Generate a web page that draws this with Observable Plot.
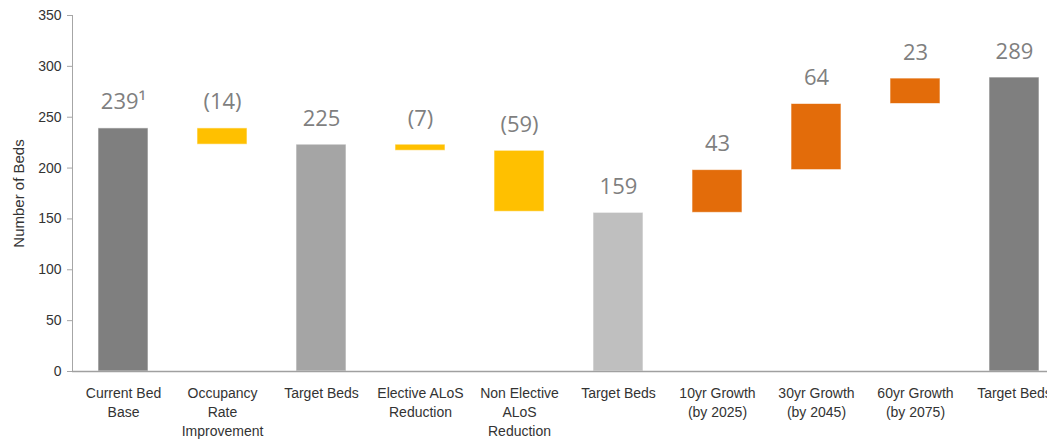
<!DOCTYPE html>
<html>
<head>
<meta charset="utf-8">
<script src="https://cdn.jsdelivr.net/npm/d3@7"></script>
<script src="https://cdn.jsdelivr.net/npm/@observablehq/plot@0.6"></script>
<style>
  html, body { margin: 0; padding: 0; background: #fff; overflow: hidden; }
  #chart { width: 1047px; height: 440px; overflow: hidden; }
</style>
</head>
<body>
<div id="chart"></div>
<script>
// ---- data ----
const categories = [
  "Current Bed\nBase",
  "Occupancy\nRate\nImprovement",
  "Target Beds",
  "Elective ALoS\nReduction",
  "Non Elective\nALoS\nReduction",
  "Target Beds",
  "10yr Growth\n(by 2025)",
  "30yr Growth\n(by 2045)",
  "60yr Growth\n(by 2075)",
  "Target Beds"
];
const barStart = [0, 239, 0, 223, 217, 0, 156, 198, 263, 0];
const barEnd   = [239, 223, 223, 217, 157, 156, 198, 263, 288, 289];
const valueLabels = ["239\u00b9", "(14)", "225", "(7)", "(59)", "159", "43", "64", "23", "289"];
const barKind = ["total", "decrease", "subtotal", "decrease", "decrease", "subtotalLight", "increase", "increase", "increase", "total"];
const yTicks = [0, 50, 100, 150, 200, 250, 300, 350];

// ---- styles ----
const kindColor = {
  total: "#7f7f7f",
  subtotal: "#a5a5a5",
  subtotalLight: "#bfbfbf",
  decrease: "#ffc000",
  increase: "#e36c0a"
};

const rows = categories.map((c, i) => ({
  key: i,
  start: barStart[i],
  end: barEnd[i],
  top: Math.max(barStart[i], barEnd[i]),
  label: valueLabels[i],
  color: kindColor[barKind[i]]
}));

const chart = Plot.plot({
  width: 1047,
  height: 440,
  marginLeft: 72,
  marginRight: 0,
  marginTop: 15,
  marginBottom: 69,
  style: { background: "#fff", fontFamily: "'Liberation Sans', Arial, sans-serif" },
  x: { type: "band", domain: rows.map(d => d.key), range: [49, 1088], padding: 0.495, round: false },
  y: { domain: [0, 350] },
  color: { type: "identity" },
  marks: [
    Plot.barY(rows, { x: "key", y1: "start", y2: "end", fill: "color", stroke: "#ffffff", strokeOpacity: 0.6, strokeWidth: 1 }),
    Plot.text(rows, {
      x: "key", y: "top", text: "label", dy: -26, lineAnchor: "middle",
      fontFamily: "'Open Sans', sans-serif", fontSize: 22, fill: "#7f7f7f"
    }),
    Plot.frame({ anchor: "left", stroke: "#a6a6a6" }),
    Plot.ruleY([0], { stroke: "#a0a0a0", strokeWidth: 1.5 }),
    Plot.axisY({
      ticks: yTicks, tickSize: 5, tickPadding: 6, fontSize: 14, fill: "#333",
      stroke: "#a6a6a6", label: null
    }),
    Plot.axisY({
      ticks: [], tickSize: 0, fontSize: 15, fill: "#333",
      label: "Number of Beds", labelAnchor: "center", labelArrow: "none", labelOffset: 59
    }),
    Plot.axisX({
      tickSize: 0, tickPadding: 13, fontSize: 14, fill: "#333", lineHeight: 1.36,
      tickFormat: i => categories[i], label: null
    })
  ]
});
document.getElementById("chart").appendChild(chart);
</script>
</body>
</html>
